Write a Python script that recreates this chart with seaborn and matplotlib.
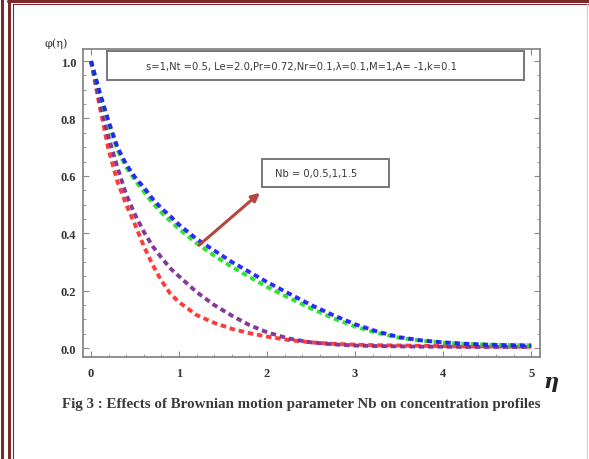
import numpy as np
import pandas as pd
import matplotlib
matplotlib.use("Agg")
import matplotlib.pyplot as plt
from matplotlib.lines import Line2D
from matplotlib.patches import FancyArrowPatch, Rectangle
from matplotlib.ticker import MultipleLocator
import seaborn as sns

# ---- data ----
eta = [0, 0.1, 0.2, 0.3, 0.4, 0.5, 0.6, 0.7, 0.8, 0.9, 1.0, 1.2, 1.4, 1.6, 1.8, 2.0,
       2.25, 2.5, 2.75, 3.0, 3.25, 3.5, 3.75, 4.0, 4.25, 4.5, 4.75, 5.0]
phi_red = [1.0, 0.84, 0.69, 0.58, 0.50, 0.43, 0.355, 0.29, 0.235, 0.19, 0.16, 0.115,
           0.088, 0.067, 0.052, 0.04, 0.028, 0.02, 0.015, 0.012, 0.01, 0.009, 0.008,
           0.007, 0.006, 0.006, 0.005, 0.005]
phi_purple = [1.0, 0.86, 0.735, 0.63, 0.535, 0.465, 0.405, 0.355, 0.315, 0.278, 0.25,
              0.195, 0.15, 0.113, 0.08, 0.055, 0.033, 0.02, 0.013, 0.009, 0.007, 0.006,
              0.005, 0.005, 0.004, 0.004, 0.004, 0.004]
phi_green = [1.0, 0.885, 0.78, 0.69, 0.63, 0.585, 0.545, 0.505, 0.472, 0.443, 0.415,
             0.365, 0.322, 0.283, 0.248, 0.213, 0.175, 0.138, 0.104, 0.075, 0.053,
             0.036, 0.026, 0.019, 0.015, 0.012, 0.011, 0.01]
phi_blue = [1.0, 0.89, 0.79, 0.70, 0.64, 0.595, 0.56, 0.52, 0.487, 0.46, 0.43, 0.38,
            0.34, 0.30, 0.265, 0.23, 0.19, 0.15, 0.115, 0.083, 0.058, 0.038, 0.027,
            0.02, 0.015, 0.012, 0.01, 0.009]
series_names = ["Nb=0", "Nb=0.5", "Nb=1", "Nb=1.5"]
series_values = [phi_red, phi_purple, phi_green, phi_blue]
series_colors = ["#ff2a2a", "#7a2a8e", "#22e022", "#1a1aff"]
x_ticks = [0, 1, 2, 3, 4, 5]
y_ticks = [0.0, 0.2, 0.4, 0.6, 0.8, 1.0]
param_text = "s=1,Nt =0.5, Le=2.0,Pr=0.72,Nr=0.1,\u03bb=0.1,M=1,A= -1,k=0.1"
nb_text = "Nb = 0,0.5,1,1.5"
caption = "Fig 3 : Effects of Brownian motion parameter Nb on concentration profiles"

df = pd.concat([pd.DataFrame({"eta": eta, "phi": v, "series": n})
                for n, v in zip(series_names, series_values)], ignore_index=True)

sns.set_theme(style="white")
plt.rcParams["font.family"] = ["DejaVu Sans"]

W, H = 589, 460
fig = plt.figure(figsize=(W / 100, H / 100), dpi=100)
ax = fig.add_axes([83 / W, 1 - 358 / H, (540 - 83) / W, (358 - 50) / H])

palette = dict(zip(series_names, series_colors))
for n in series_names:
    sns.lineplot(data=df[df.series == n], x="eta", y="phi", color=palette[n],
                 ax=ax, legend=False, lw=2.8)
for ln in ax.get_lines():
    ln.set_dashes((1.4, 1.0))
    ln.set_dash_capstyle("butt")
    ln.set_alpha(0.92)

ax.set_xlim(-0.091, 5.10)
ax.set_ylim(-0.031, 1.042)
ax.set_xticks(x_ticks)
ax.set_yticks(y_ticks)
ax.set_xticklabels([str(t) for t in x_ticks])
ax.set_yticklabels([f"{t:.1f}" for t in y_ticks])
ax.xaxis.set_minor_locator(MultipleLocator(0.2))
ax.yaxis.set_minor_locator(MultipleLocator(0.05))
ax.tick_params(which="both", direction="in", top=True, right=True,
               bottom=True, left=True, color="#888888")
ax.tick_params(which="major", length=4, width=0.8)
ax.tick_params(which="minor", length=2.5, width=0.6)
ax.tick_params(axis="x", pad=7)
ax.tick_params(axis="y", pad=5)
for lab in ax.get_xticklabels() + ax.get_yticklabels():
    lab.set_fontfamily("Liberation Serif")
    lab.set_fontweight("bold")
    lab.set_fontsize(9)
    lab.set_color("#333333")
for s in ax.spines.values():
    s.set_color("#888888")
    s.set_linewidth(1.3)
ax.set_xlabel("")
ax.set_ylabel("")

# axis titles
fig.text(56 / W, 1 - 44 / H, "\u03c6(\u03b7)", fontsize=8, family="DejaVu Serif",
         ha="center", va="center", color="#333333")
fig.text(551 / W, 1 - 382 / H, "\u03b7", fontsize=15, family="DejaVu Serif",
         style="italic", weight="bold", ha="center", va="center", color="#222222")

# parameter box
fig.patches.append(Rectangle((107 / W, 1 - 81 / H), (524 - 107) / W, (81 - 52) / H,
                             transform=fig.transFigure, fill=True, facecolor="white",
                             edgecolor="#777777", lw=1.4, zorder=5))
fig.text(301 / W, 1 - 67 / H, param_text, fontsize=7.2, family="DejaVu Sans",
         ha="center", va="center", color="#3a3a3a", zorder=6)

# Nb box
fig.patches.append(Rectangle((262 / W, 1 - 188 / H), (389 - 262) / W, (188 - 160) / H,
                             transform=fig.transFigure, fill=True, facecolor="white",
                             edgecolor="#777777", lw=1.4, zorder=5))
fig.text(316 / W, 1 - 174 / H, nb_text, fontsize=7.2, family="DejaVu Sans",
         ha="center", va="center", color="#3a3a3a", zorder=6)

# arrow
fig.patches.append(FancyArrowPatch((197 / W, 1 - 248 / H), (262 / W, 1 - 192 / H),
                                   transform=fig.transFigure, arrowstyle="-|>",
                                   mutation_scale=12, color="#b5473f", lw=2.2, zorder=7))

# caption
fig.text(301 / W, 1 - 405 / H, caption, fontsize=10.8, family="Liberation Serif",
         weight="bold", ha="center", va="center", color="#3a3a3a")

# page border
red = "#7a2a2a"
fig.add_artist(Line2D([1.5 / W, 1.5 / W], [0, 1], color=red, lw=2.2, transform=fig.transFigure))
fig.add_artist(Line2D([8.5 / W, 8.5 / W], [0, 1], color=red, lw=2.2, transform=fig.transFigure))
fig.add_artist(Line2D([12.5 / W, 12.5 / W], [0, 1 - 5 / H], color=red, lw=0.8, transform=fig.transFigure))
fig.add_artist(Line2D([8 / W, 1], [1 - 1.5 / H, 1 - 1.5 / H], color=red, lw=2.2, transform=fig.transFigure))
fig.add_artist(Line2D([12.5 / W, 1], [1 - 5 / H, 1 - 5 / H], color=red, lw=0.8, transform=fig.transFigure))
fig.add_artist(Line2D([587 / W, 587 / W], [0, 1 - 5 / H], color="#cccccc", lw=0.8, transform=fig.transFigure))

fig.savefig("out.png", dpi=100)
